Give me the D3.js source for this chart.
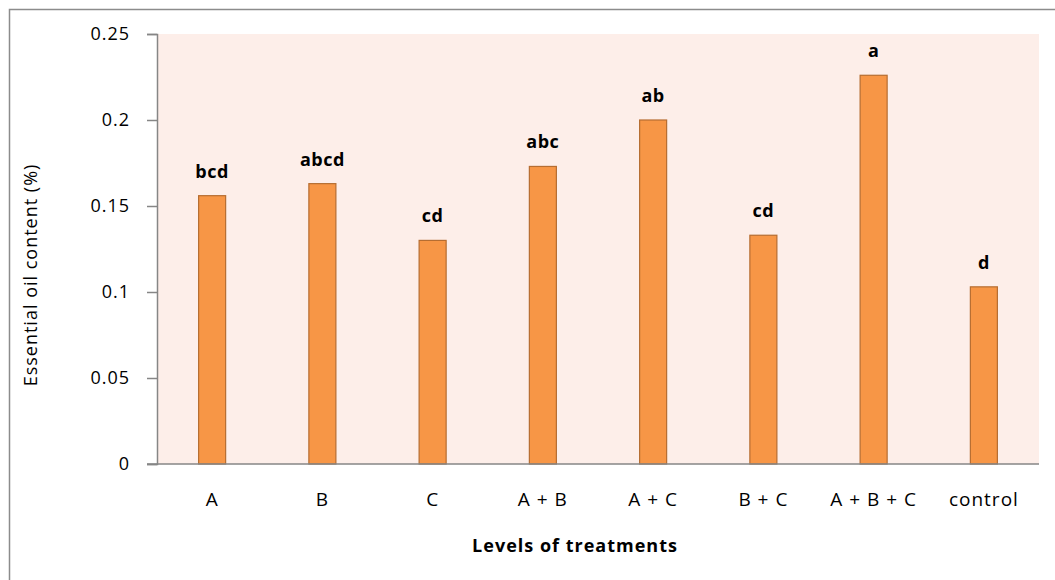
<!DOCTYPE html>
<html>
<head>
<meta charset="utf-8">
<script src="https://cdn.jsdelivr.net/npm/d3@7"></script>
<style>
  body { margin: 0; background: #fff; }
  text { font-family: "Open Sans", sans-serif; }
</style>
</head>
<body>
<div id="chart"></div>
<script>
// data
var treatments = ["A", "B", "C", "A + B", "A + C", "B + C", "A + B + C", "control"]
var oilContent = [0.156, 0.163, 0.130, 0.173, 0.200, 0.133, 0.226, 0.103]
var letters = ["bcd", "abcd", "cd", "abc", "ab", "cd", "a", "d"]
var yTicks = [0, 0.05, 0.1, 0.15, 0.2, 0.25]
var yTickLabels = ["0", "0.05", "0.1", "0.15", "0.2", "0.25"]

var width = 1055
var height = 580
var margin = {top: 34, right: 16, bottom: 116, left: 157}

var svg = d3.select("#chart").append("svg")
    .attr("width", width)
    .attr("height", height)

// outer chart border (only top/left visible in the crop)
svg.append("rect")
    .attr("x", 9.5).attr("y", 9.5)
    .attr("width", width + 20).attr("height", height + 20)
    .attr("fill", "none")
    .attr("stroke", "#8c8c8c")
    .attr("stroke-width", 1.5)

var x = d3.scaleBand()
    .domain(treatments)
    .range([margin.left, width - margin.right])

var y = d3.scaleLinear()
    .domain([0, 0.25])
    .range([height - margin.bottom, margin.top])

// plot background
svg.append("rect")
    .attr("x", margin.left)
    .attr("y", margin.top)
    .attr("width", width - margin.right - margin.left)
    .attr("height", height - margin.bottom - margin.top)
    .attr("fill", "#fdeee9")

var barW = x.step() * 0.245

svg.append("g")
  .selectAll("rect")
  .data(oilContent)
  .enter().append("rect")
    .attr("x", function(d, i) { return x(treatments[i]) + x.bandwidth() / 2 - barW / 2 })
    .attr("y", function(d) { return y(d) })
    .attr("width", barW)
    .attr("height", function(d) { return y(0) - y(d) })
    .attr("fill", "#f79646")
    .attr("stroke", "#b66d31")
    .attr("stroke-width", 1.2)

// significance letters
svg.append("g")
  .selectAll("text")
  .data(letters)
  .enter().append("text")
    .attr("x", function(d, i) { return x(treatments[i]) + x.bandwidth() / 2 })
    .attr("y", function(d, i) { return y(oilContent[i]) - 18 })
    .attr("text-anchor", "middle")
    .style("font-size", "18px")
    .style("letter-spacing", "0.5px")
    .style("font-weight", "bold")
    .attr("fill", "#000")
    .text(function(d) { return d })

// y axis
var yAxis = svg.append("g")
    .attr("transform", "translate(" + margin.left + ",0)")
    .call(d3.axisLeft(y).tickValues(yTicks)
      .tickFormat(function(d, i) { return yTickLabels[i] })
      .tickSize(10).tickPadding(17))
yAxis.select(".domain").attr("stroke", "#868686").attr("stroke-width", 1.5)
yAxis.selectAll(".tick line").attr("stroke", "#868686").attr("stroke-width", 1.5)
yAxis.selectAll(".tick text").style("font-size", "18px")
    .style("letter-spacing", "1px").attr("fill", "#000")

// x axis baseline
var xAxis = svg.append("g")
    .attr("transform", "translate(0," + y(0) + ")")
    .call(d3.axisBottom(x).tickSize(0).tickPadding(29))
xAxis.select(".domain").attr("stroke", "#868686").attr("stroke-width", 1.5)
  .attr("d", "M" + (margin.left - 10) + ",0H" + (width - margin.right))
xAxis.selectAll(".tick text").style("font-size", "19px")
    .style("letter-spacing", "1px").attr("fill", "#000")

// axis titles
svg.append("text")
    .attr("transform", "translate(37,275)rotate(-90)")
    .attr("text-anchor", "middle")
    .style("font-size", "18px")
    .style("letter-spacing", "1px")
    .attr("fill", "#000")
    .text("Essential oil content (%)")

svg.append("text")
    .attr("x", 575)
    .attr("y", 552)
    .attr("text-anchor", "middle")
    .style("font-size", "18px")
    .style("letter-spacing", "1px")
    .style("font-weight", "bold")
    .attr("fill", "#000")
    .text("Levels of treatments")
</script>
</body>
</html>
